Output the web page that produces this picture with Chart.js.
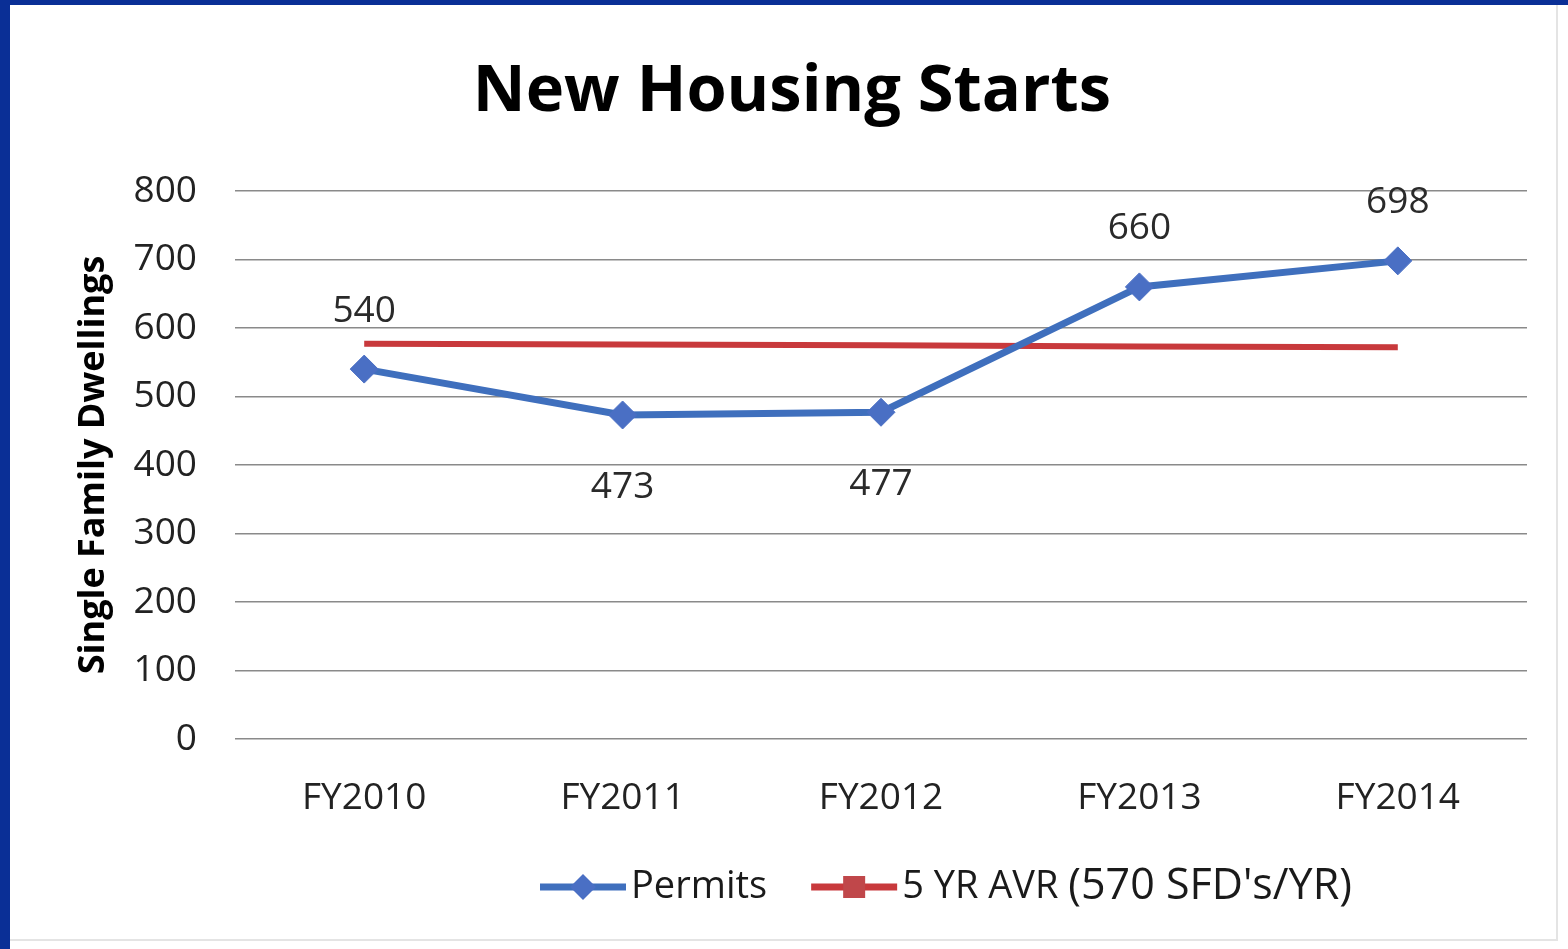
<!DOCTYPE html>
<html>
<head>
<meta charset="utf-8">
<script src="https://cdn.jsdelivr.net/npm/chart.js@4"></script>
<style>
  body { margin: 0; background: #fff; width: 1568px; height: 949px; overflow: hidden; position: relative; }
  #leftbar { position: absolute; left: 0; top: 0; width: 10px; height: 949px; background: #0a2f96; }
  #topbar { position: absolute; left: 0; top: 0; width: 1568px; height: 5px; background: #0a2f96; }
  #wrap { position: absolute; left: 10px; top: 5px; width: 1546px; height: 934px; background: #fff;
          border-right: 2px solid #e4e4e4; border-bottom: 2px solid #e4e4e4; }
</style>
</head>
<body>
<div id="leftbar"></div>
<div id="topbar"></div>
<div id="wrap"><canvas id="chart" width="1546" height="934"></canvas></div>
<script>
const years = ['FY2010', 'FY2011', 'FY2012', 'FY2013', 'FY2014'];
const permits = [540, 473, 477, 660, 698];
const avgLine = [577, 576, 575, 573, 572];
const labelSide = ['above', 'below', 'below', 'above', 'above'];
const yTicks = [0, 100, 200, 300, 400, 500, 600, 700, 800];

const blue = '#3f6fbd';
const red = '#c8393c';
const font = 'Open Sans';

// numbers next to the permit points
const pointLabels = {
  id: 'pointLabels',
  afterDatasetsDraw(chart) {
    const ctx = chart.ctx;
    const meta = chart.getDatasetMeta(0);
    ctx.save();
    ctx.font = '37px "' + font + '"';
    ctx.fillStyle = '#2a2a2a';
    ctx.textAlign = 'center';
    ctx.textBaseline = 'middle';
    meta.data.forEach((pt, i) => {
      const dy = labelSide[i] === 'above' ? -58 : 72;
      ctx.fillText(String(permits[i]), pt.x, pt.y + dy);
    });
    ctx.restore();
  }
};

// legend with line + marker like the original
const lineLegend = {
  id: 'lineLegend',
  afterDraw(chart) {
    const ctx = chart.ctx;
    const y = 882;
    ctx.save();
    ctx.font = '38px "' + font + '"';
    ctx.textBaseline = 'middle';
    const t1 = 'Permits';
    const t2a = '5 YR AVR ';
    const t2b = "(570 SFD's/YR)";
    const seg = 86, gapTxt = 5, gapItem = 44;
    let x = 530;
    // permits
    ctx.strokeStyle = blue; ctx.lineWidth = 7;
    ctx.beginPath(); ctx.moveTo(x, y); ctx.lineTo(x + seg, y); ctx.stroke();
    ctx.fillStyle = '#4a6fc4';
    ctx.beginPath();
    ctx.moveTo(x + seg / 2, y - 13); ctx.lineTo(x + seg / 2 + 13, y);
    ctx.lineTo(x + seg / 2, y + 13); ctx.lineTo(x + seg / 2 - 13, y); ctx.closePath(); ctx.fill();
    x += seg + gapTxt;
    ctx.fillStyle = '#1a1a1a';
    ctx.fillText(t1, x, y);
    x += ctx.measureText(t1).width + gapItem;
    // average
    ctx.strokeStyle = red; ctx.lineWidth = 7;
    ctx.beginPath(); ctx.moveTo(x, y); ctx.lineTo(x + seg, y); ctx.stroke();
    ctx.fillStyle = '#c0474a';
    ctx.fillRect(x + seg / 2 - 11, y - 11, 22, 22);
    x += seg + gapTxt;
    ctx.fillStyle = '#1a1a1a';
    ctx.fillText(t2a, x, y);
    x += ctx.measureText(t2a).width;
    ctx.font = '43px "' + font + '"';
    ctx.fillText(t2b, x, y);
    ctx.restore();
  }
};

new Chart(document.getElementById('chart'), {
  type: 'line',
  data: {
    labels: years,
    datasets: [
      {
        label: 'Permits',
        data: permits,
        borderColor: blue,
        borderWidth: 7,
        pointStyle: 'rectRot',
        pointRadius: 14,
        pointBackgroundColor: '#4a6fc4',
        pointBorderColor: '#4a6fc4',
        pointBorderWidth: 1,
        tension: 0
      },
      {
        label: "5 YR AVR (570 SFD's/YR)",
        data: avgLine,
        borderColor: red,
        borderWidth: 6,
        pointRadius: 0,
        tension: 0
      }
    ]
  },
  options: {
    responsive: false,
    animation: false,
    layout: { padding: { left: 18, right: 0, top: 0, bottom: 0 } },
    plugins: {
      legend: { display: false },
      tooltip: { enabled: false },
      title: {
        display: true,
        text: 'New Housing Starts',
        color: '#000',
        font: { family: font, size: 65, weight: 'bold' },
        padding: { top: 48, bottom: 60 }
      }
    },
    scales: {
      x: {
        offset: true,
        grid: { display: false },
        border: { display: false },
        ticks: { color: '#222', font: { family: font, size: 37 }, padding: 29 },
        afterFit(scale) { scale.height = 200; }
      },
      y: {
        min: 0,
        max: 800,
        afterBuildTicks(scale) { scale.ticks = yTicks.map(v => ({ value: v })); },
        grid: { color: '#8a8a8a', lineWidth: 1.5, drawTicks: false },
        border: { display: false },
        ticks: { color: '#222', font: { family: font, size: 37 }, padding: 38 },
        title: {
          display: true,
          text: 'Single Family Dwellings',
          color: '#000',
          font: { family: font, size: 36, weight: 'bold' },
          padding: { top: 44, bottom: 0 }
        },
        afterFit(scale) { scale.width = 207; }
      },
      // empty right axis keeps the plot clear of the right edge
      yRight: {
        position: 'right',
        display: true,
        grid: { display: false },
        border: { display: false },
        ticks: { display: false },
        afterFit(scale) { scale.width = 29; }
      }
    }
  },
  plugins: [pointLabels, lineLegend]
});
</script>
</body>
</html>
